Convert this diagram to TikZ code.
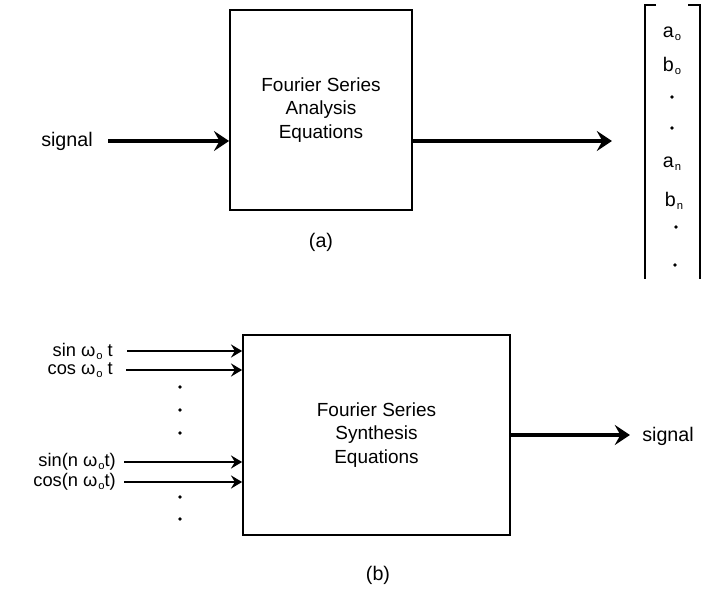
\documentclass[tikz,border=0pt]{standalone}
\usepackage{fontspec}
\setmainfont{Liberation Sans}
\usetikzlibrary{arrows.meta,positioning}
\newcommand{\lowsub}[1]{\kern0.6pt\raisebox{-0.3ex}{\footnotesize #1}}

\begin{document}
\begin{tikzpicture}[x=0.025cm,y=-0.025cm,
  font=\fontsize{14}{16.6}\selectfont,
  blk/.style={draw,line width=1.2pt,align=center,inner sep=0pt,
    font=\fontsize{13.5}{16.6}\selectfont},
  bigarr/.style={-{Stealth[length=3.8mm,width=5mm,inset=1.4mm]},line width=2.4pt},
  inarr/.style={-{Stealth[length=2.8mm,width=3.3mm,inset=1mm]},line width=1.8pt},
  lbl/.style={inner sep=0pt},
  harm/.style={inner sep=0pt,anchor=east,font=\fontsize{13}{14}\selectfont},
  brk/.style={line width=1.2pt},
  vdot/.style={circle,fill,inner sep=0pt,minimum size=2.8pt}]
\useasboundingbox (0,0) rectangle (710,596);

% ---- (a) analysis: signal -> box -> coefficient vector ----
\node[blk,minimum width=4.55cm,minimum height=5cm] (ana) at (321,110)
  {Fourier Series\\Analysis\\Equations};
\node[lbl,anchor=east] (sigin) at (93,141) {signal};
\coordinate (ain) at (108,141);
\draw[bigarr] (ain) -- (ain -| ana.west);
\coordinate (aout) at (612,141);
\draw[bigarr] (ana.east |- aout) -- (aout);
\node[lbl] (capa) at (321,242) {(a)};

% coefficient vector, open at the bottom
\draw[brk] (656,5) -- (645,5) -- (645,279);
\draw[brk] (688,5) -- (700,5) -- (700,279);
\node[lbl] (a0) at (672,34) {a\lowsub{o}};
\node[lbl] (b0) at (672,66) {b\lowsub{o}};
\node[vdot] (d1) at (672,97) {};
\node[vdot] (d2) at (672,128) {};
\node[lbl] (an) at (672,164) {a\lowsub{n}};
\node[lbl] (bn) at (674,201) {b\lowsub{n}};
\node[vdot] (d3) at (676,227) {};
\node[vdot] (d4) at (675,265) {};

% ---- (b) synthesis: harmonics -> box -> signal ----
\node[blk,minimum width=6.675cm,minimum height=5cm] (syn) at (376.5,435)
  {Fourier Series\\Synthesis\\Equations};
\node[harm] (sin1) at (113,351) {sin ω\lowsub{o} t};
\node[harm] (cos1) at (113,370) {cos ω\lowsub{o} t};
\node[harm] (sinn) at (116,462) {sin(n ω\lowsub{o}t)};
\node[harm] (cosn) at (116,482) {cos(n ω\lowsub{o}t)};
\foreach \nm/\xs in {sin1/127,cos1/126,sinn/124,cosn/124}
  \draw[inarr] (\xs,0 |- \nm.east) -- (\nm.east -| syn.west);
\foreach \yy [count=\k] in {387,410,433,497,519}
  \node[vdot] (vd\k) at (180,\yy) {};
\coordinate (bout) at (630,435);
\draw[bigarr] (syn.east |- bout) -- (bout);
\node[lbl,anchor=west] (sigout) at (642,436) {signal};
\node[lbl] (capb) at (378,575) {(b)};
\end{tikzpicture}
\end{document}
